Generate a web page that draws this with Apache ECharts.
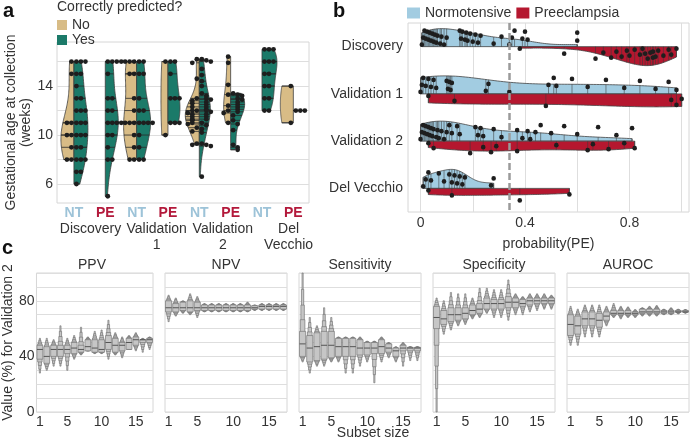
<!DOCTYPE html>
<html><head><meta charset="utf-8">
<script src="https://cdn.jsdelivr.net/npm/echarts@6/dist/echarts.min.js"></script>
<style>html,body{margin:0;padding:0;background:#fff}#c{width:691px;height:439px}</style>
</head><body><div id="c"></div>
<script>
// ================= DATA =================
// Panel a: gestational age at collection (weeks), split by "correctly predicted?"
const aPositions = [1, 2, 3, 4, 5, 6, 7, 8];
const aCategoryLabels = ['NT', 'PE', 'NT', 'PE', 'NT', 'PE', 'NT', 'PE'];
const aDatasetLabels = ['Discovery', 'Validation\n1', 'Validation\n2', 'Del\nVecchio'];
const aNo = [
  [16, 15, 11, 11, 10, 10, 9, 8, 8],
  [],
  [16, 16, 16, 15, 15, 13, 12, 11, 11, 11, 10, 9, 8, 8],
  [16, 10],
  [16.2, 15.9, 14.6, 13.0, 12.8, 12.6, 12.3, 12.0, 12.0, 11.8, 11.7, 11.5, 11.3, 11.2, 11.0, 10.9, 10.6, 10.3, 9.3, 9.2],
  [16.4, 15.9, 14.1, 13.3, 12.4, 12.0, 11.8, 11.0],
  [],
  [14, 11]
];
const aYes = [
  [16, 16, 16, 15, 15, 14, 13, 13, 12, 12, 12, 11, 11, 11, 10, 10, 10, 9, 9, 8, 8, 8, 7, 7, 6],
  [16, 16, 16, 16, 15, 13, 13, 12, 12, 11, 11, 11, 11, 10, 10, 9, 8, 8, 5],
  [16, 16, 15, 15, 13, 12, 12, 11, 11, 11, 11, 10, 9, 8, 8],
  [16, 16, 15, 13, 13, 13, 11, 11, 11],
  [16.2, 16.1, 16.0, 15.4, 14.9, 14.4, 14.0, 13.4, 13.2, 13.0, 12.9, 12.7, 12.5, 12.3, 12.1, 12.0, 11.9, 11.7, 11.5, 11.3, 11.0, 10.8, 10.5, 10.2, 9.3, 9.2, 9.1, 6.6],
  [13.4, 13.3, 13.2, 13.0, 12.9, 12.7, 12.5, 12.3, 12.1, 11.9, 11.6, 11.2, 10.9, 10.4, 9.2, 9.0, 8.8],
  [17, 17, 17, 16, 16, 16, 15, 15, 14, 14, 13, 13, 12, 12],
  [12, 12, 12]
];
const aYTicks = [6, 8, 10, 12, 14, 16];
const aYLabels = [6, 10, 14];

// Panel b: probability(PE)
const bDatasets = ['Discovery', 'Validation 1', 'Validation 2', 'Del Vecchio'];
const bNormotensive = [
  [0.005, 0.01, 0.015, 0.02, 0.025, 0.03, 0.035, 0.04, 0.045, 0.05, 0.055, 0.06, 0.065, 0.075, 0.08, 0.09, 0.10, 0.15, 0.155, 0.16, 0.17, 0.175, 0.18, 0.19, 0.20, 0.21, 0.22, 0.23, 0.28, 0.31, 0.34, 0.35, 0.36, 0.39, 0.40, 0.41, 0.60, 0.60],
  [0.0, 0.005, 0.01, 0.02, 0.03, 0.04, 0.05, 0.06, 0.10, 0.105, 0.11, 0.115, 0.12, 0.25, 0.26, 0.34, 0.49, 0.51, 0.52, 0.58, 0.64, 0.71, 0.78, 0.84, 0.90, 0.95, 0.98],
  [0.0, 0.005, 0.01, 0.015, 0.02, 0.025, 0.03, 0.035, 0.04, 0.045, 0.05, 0.06, 0.065, 0.07, 0.08, 0.09, 0.10, 0.11, 0.12, 0.14, 0.15, 0.21, 0.22, 0.23, 0.24, 0.28, 0.31, 0.37, 0.39, 0.41, 0.42, 0.44, 0.46, 0.50, 0.55, 0.60, 0.68, 0.75, 0.81],
  [0.01, 0.02, 0.03, 0.04, 0.07, 0.09, 0.11, 0.12, 0.13, 0.14, 0.15, 0.16, 0.17, 0.27, 0.28]
];
const bPreeclampsia = [
  [0.38, 0.55, 0.67, 0.70, 0.73, 0.75, 0.77, 0.79, 0.80, 0.82, 0.84, 0.85, 0.86, 0.87, 0.88, 0.89, 0.89, 0.90, 0.91, 0.93, 0.95, 0.96, 0.98],
  [0.03, 0.13, 0.48, 0.96, 0.98, 1.0],
  [0.03, 0.05, 0.19, 0.24, 0.27, 0.29, 0.37, 0.52, 0.64, 0.66, 0.72, 0.78, 0.82],
  [0.03, 0.12, 0.38, 0.57]
];
const bThreshold = 0.343;
const bXTicks = [0, 0.2, 0.4, 0.6, 0.8, 1.0];
const bXLabels = [0, 0.4, 0.8];

// Panel c: value (%) for Validation 2 by subset size (letter-value summaries)
const cMetrics = ['PPV', 'NPV', 'Sensitivity', 'Specificity', 'AUROC'];
const cSubsetSizes = [1, 2, 3, 4, 5, 6, 7, 8, 9, 10, 11, 12, 13, 14, 15, 16, 17];
const cXLabels = [1, 5, 10, 15];
const cYLabels = [0, 40, 80];
const ppvMin = [28, 30, 33, 33, 30, 38, 41, 44, 42, 42, 38, 41, 39, 45, 44, 43, 45];
const ppvQ25 = [38, 35, 40, 40, 42, 42, 43, 44, 43, 43, 45, 43, 44, 45, 48, 50, 50];
const ppvMed = [45, 40, 45, 45, 45, 46, 45, 47, 46, 45, 50, 48, 48, 50, 52, 52, 52];
const ppvQ75 = [48, 47, 48, 48, 48, 50, 48, 52, 52, 52, 55, 53, 50, 53, 54, 52, 53];
const ppvMax = [53, 53, 52, 62, 53, 55, 61, 54, 58, 59, 66, 57, 54, 55, 57, 53, 54];
const npvMin = [65, 69, 71, 70, 68, 72, 72, 72, 72, 72, 72, 72, 73, 73, 73, 73, 73];
const npvQ25 = [72, 72, 73, 72, 73, 73, 73, 73, 73, 73, 73, 73, 74, 74, 74, 74, 74];
const npvMed = [75, 75, 75, 75, 75, 75, 75, 75, 75, 75, 75, 75, 75, 76, 76, 76, 76];
const npvQ75 = [80, 78, 79, 80, 79, 77, 77, 77, 77, 77, 77, 77, 76.5, 77, 77, 77, 77];
const npvMax = [84, 82, 80, 85, 83, 78, 78, 78, 78, 78, 78, 79, 77, 78, 78, 78, 78];
const sensMin = [36, 28, 33, 33, 36, 36, 28, 28, 33, 36, 21, 36, 39, 36, 33, 37, 37];
const sensQ25 = [40, 36, 37, 38, 39, 40, 40, 40, 41, 41, 42, 42, 43, 40, 44, 44, 44];
const sensMed = [49, 46, 47, 48, 48, 47, 47, 47, 46, 46, 46, 47, 46, 44, 46, 46, 46];
const sensQ75 = [58, 55, 57, 58, 58, 53, 53, 53, 52, 50, 50, 52, 49, 46, 48, 46.5, 46.5];
const sensMax = [100, 68, 62, 75, 68, 54, 54, 54, 54, 51, 51, 54, 50, 47, 50, 47, 47];
const specMin = [0, 56, 59, 62, 63, 67, 68, 71, 68, 68, 66, 70, 70, 72, 73, 74, 74];
const specQ25 = [60, 63, 65, 66, 67, 70, 71, 74, 74, 74, 75, 75, 76, 77, 78, 78, 78];
const specMed = [68, 67, 70, 70, 71, 73, 74, 78, 78, 78, 79, 79, 78, 80, 80, 80, 80];
const specQ75 = [76, 73, 75, 75, 75, 77, 78, 82, 81, 81, 83, 82, 81, 82, 82, 82, 82];
const specMax = [82, 80, 86, 85, 85, 82, 89, 89, 88, 88, 95, 85, 83, 85, 85, 85, 84];
const aucMin = [48, 48, 54, 54, 54, 62, 68, 67, 68, 68, 69, 69, 69, 70, 70, 70.5, 71];
const aucQ25 = [55, 56, 62, 62, 61, 66, 70, 70, 70, 70, 71, 71, 71, 71, 71, 72, 72];
const aucMed = [63, 62, 67, 67, 66, 69, 71, 71, 71, 71, 72, 72, 72, 72, 72, 72, 72];
const aucQ75 = [70, 69, 72, 72, 71, 72, 73, 73, 73, 72, 74, 74, 74, 73, 73, 73, 73];
const aucMax = [76, 74, 77, 77, 77, 76, 78, 76, 75.6, 73.7, 75, 76, 76.6, 74, 75, 74, 73.7];

// ================= STYLE / LAYOUT =================
const FONT = '"Liberation Sans", Arial, sans-serif';
const TEXT = '#333';
const TAN = '#d8bc86', TEAL = '#1b7a69', BLUE = '#a2cce1', RED = '#b5172f';
const aNoWidthPx = [13, 0, 13, 7, 14, 7, 0, 13];
const aYesWidthPx = [14, 13, 14, 12, 11, 14, 15, 13];
const aDatasetLabelPos = [1.53, 3.64, 5.75, 7.85];
const bBlueHeightPx = [18, 18, 20, 19];
const bRedHeightPx = [19, 13, 10, 7];
const cGridLefts = [31, 165, 299, 433, 567];
const cStats = [
  [ppvMin, ppvQ25, ppvMed, ppvQ75, ppvMax],
  [npvMin, npvQ25, npvMed, npvQ75, npvMax],
  [sensMin, sensQ25, sensMed, sensQ75, sensMax],
  [specMin, specQ25, specMed, specQ75, specMax],
  [aucMin, aucQ25, aucMed, aucQ75, aucMax]
];

// ================= HELPERS =================
function kde(vals) {
  const n = vals.length;
  if (n < 2) return null;
  const mean = vals.reduce((a, b) => a + b, 0) / n;
  const sd = Math.sqrt(vals.reduce((a, b) => a + (b - mean) * (b - mean), 0) / (n - 1));
  if (sd === 0) return null;
  const bw = sd * Math.pow(n, -0.2);
  const lo = Math.min(...vals), hi = Math.max(...vals);
  const f = x => vals.reduce((s, v) => s + Math.exp(-0.5 * ((x - v) / bw) * ((x - v) / bw)), 0);
  const N = 80, pts = [];
  for (let i = 0; i <= N; i++) { const x = lo + (hi - lo) * i / N; pts.push([x, f(x)]); }
  const mx = Math.max(...pts.map(p => p[1]));
  return { lo, hi, pts: pts.map(p => [p[0], p[1] / mx]), at: x => f(x) / mx };
}

// Panel a halves
const aNoHalves = aPositions.map((p, i) => ({ pos: p, side: -1, vals: aNo[i], width: aNoWidthPx[i], color: TAN, k: kde(aNo[i]) }));
const aYesHalves = aPositions.map((p, i) => ({ pos: p, side: 1, vals: aYes[i], width: aYesWidthPx[i], color: TEAL, k: kde(aYes[i]) }));

function renderHalfA(list) {
  return function (params, api) {
    const h = list[params.dataIndex];
    const ch = [];
    if (!h.vals.length) return { type: 'group', children: ch };
    const cx = api.coord([h.pos, h.vals[0]])[0];
    if (h.k) {
      const pts = h.k.pts.map(([v, d]) => [cx + h.side * d * h.width, api.coord([h.pos, v])[1]]);
      pts.push([cx, api.coord([h.pos, h.k.hi])[1]], [cx, api.coord([h.pos, h.k.lo])[1]]);
      ch.push({ type: 'polygon', shape: { points: pts }, style: { fill: h.color, stroke: '#3d3d3d', lineWidth: 0.8 } });
    }
    h.vals.forEach(v => {
      const y = api.coord([h.pos, v])[1];
      const d = h.k ? h.k.at(v) : 1;
      ch.push({ type: 'line', shape: { x1: cx, y1: y, x2: cx + h.side * d * h.width, y2: y }, style: { stroke: '#2a2a2a', lineWidth: 0.8 } });
    });
    return { type: 'group', children: ch };
  };
}

// Dodged dot positions (pixel offsets) for panel a
const aDots = [];
[aNoHalves, aYesHalves].forEach(list => list.forEach(h => {
  h.vals.forEach((v, i) => {
    let k = 0;
    for (let j = 0; j < i; j++) if (Math.abs(h.vals[j] - v) < 0.3) k++;
    aDots.push([h.pos, v, h.side * (2.5 + (k % 4) * 4.5)]);
  });
}));
function renderDotA(params, api) {
  const c = api.coord([api.value(0), api.value(1)]);
  return { type: 'circle', shape: { cx: c[0] + api.value(2), cy: c[1], r: 2.4 }, style: { fill: '#1e1e1e' } };
}

// Panel b halves
const bBlueHalves = bDatasets.map((d, i) => ({ row: i, side: -1, vals: bNormotensive[i], h: bBlueHeightPx[i], color: BLUE, k: kde(bNormotensive[i]) }));
const bRedHalves = bDatasets.map((d, i) => ({ row: i, side: 1, vals: bPreeclampsia[i], h: bRedHeightPx[i], color: RED, k: kde(bPreeclampsia[i]) }));

function renderHalfB(list) {
  return function (params, api) {
    const h = list[params.dataIndex];
    const ch = [];
    const cy = api.coord([h.vals[0], h.row])[1];
    if (h.k) {
      const pts = h.k.pts.map(([v, d]) => [api.coord([v, h.row])[0], cy + h.side * d * h.h]);
      pts.push([api.coord([h.k.hi, h.row])[0], cy], [api.coord([h.k.lo, h.row])[0], cy]);
      ch.push({ type: 'polygon', shape: { points: pts }, style: { fill: h.color, stroke: '#444', lineWidth: 0.8 } });
    }
    h.vals.forEach(v => {
      const x = api.coord([v, h.row])[0];
      const d = h.k ? h.k.at(v) : 1;
      ch.push({ type: 'line', shape: { x1: x, y1: cy, x2: x, y2: cy + h.side * d * h.h }, style: { stroke: '#3a3a3a', lineWidth: 0.7, opacity: 0.8 } });
    });
    return { type: 'group', children: ch };
  };
}

const bDots = [];
bBlueHalves.forEach(h => h.vals.forEach((v, i) => bDots.push([v, h.row, -(2 + ((i * 7) % 15))])));
bRedHalves.forEach(h => h.vals.forEach((v, i) => bDots.push([v, h.row, 2 + ((i * 5) % 11)])));
function renderDotB(params, api) {
  const c = api.coord([api.value(0), api.value(1)]);
  return { type: 'circle', shape: { cx: c[0], cy: c[1] + api.value(2), r: 2.3 }, style: { fill: '#1e1e1e' } };
}

// Panel c boxen
function renderBoxen(params, api) {
  const s = api.value(0), mn = api.value(1), q1 = api.value(2), md = api.value(3), q3 = api.value(4), mx = api.value(5);
  const unit = api.size([1, 0])[0];
  const W = unit * 0.86;
  const cx = api.coord([s, md])[0];
  const levels = [[1, 0.2], [0.72, 0.38], [0.45, 0.56], [0.2, 0.76], [0, 1]];
  const ch = [];
  levels.forEach(([f, w]) => {
    const lo = q1 - f * (q1 - mn), hi = q3 + f * (mx - q3);
    const yTop = api.coord([s, hi])[1], yBot = api.coord([s, lo])[1];
    const ww = W * w;
    ch.push({ type: 'rect', shape: { x: cx - ww / 2, y: yTop, width: ww, height: Math.max(yBot - yTop, 0.6) }, style: { fill: '#c6c6c6', stroke: '#6e6e6e', lineWidth: 0.6 } });
  });
  const ym = api.coord([s, md])[1];
  ch.push({ type: 'line', shape: { x1: cx - W / 2, y1: ym, x2: cx + W / 2, y2: ym }, style: { stroke: '#555', lineWidth: 1 } });
  return { type: 'group', children: ch };
}

// ================= OPTION =================
const gridStyle = { show: true, borderColor: '#d6d6d6', borderWidth: 1, backgroundColor: 'transparent' };
const splitStyle = { show: true, lineStyle: { color: '#dedede', width: 1 } };
const labelFont = { fontFamily: FONT, fontSize: 14, color: TEXT };

const grids = [
  Object.assign({ left: 57, top: 42, width: 252, height: 161 }, gridStyle),
  Object.assign({ left: 408, top: 23, width: 281, height: 189 }, gridStyle)
];
cGridLefts.forEach(l => grids.push(Object.assign({ left: l, top: 273, width: 122, height: 139 }, gridStyle)));

const xAxes = [
  { gridIndex: 0, type: 'value', min: 0.46, max: 8.5,
    axisLine: { show: false }, axisTick: { show: false }, splitLine: { show: false },
    axisLabel: { customValues: aPositions, margin: 3, fontFamily: FONT,
      formatter: v => { const i = aPositions.indexOf(v); return i < 0 ? '' : '{' + aCategoryLabels[i].toLowerCase() + '|' + aCategoryLabels[i] + '}'; },
      rich: { nt: { color: '#9dc3d8', fontWeight: 'bold', fontSize: 14, fontFamily: FONT }, pe: { color: '#b3193b', fontWeight: 'bold', fontSize: 14, fontFamily: FONT } } } },
  { gridIndex: 0, type: 'value', min: 0.46, max: 8.5, position: 'bottom', offset: 0,
    axisLine: { show: false }, axisTick: { show: false }, splitLine: { show: false },
    axisLabel: Object.assign({ customValues: aDatasetLabelPos, margin: 18, lineHeight: 16,
      formatter: v => { const i = aDatasetLabelPos.indexOf(v); return i < 0 ? '' : aDatasetLabels[i]; } }, labelFont) },
  { gridIndex: 1, type: 'value', min: -0.048, max: 1.028,
    axisLine: { show: false }, axisTick: { show: false, customValues: bXTicks }, splitLine: splitStyle,
    axisLabel: Object.assign({ customValues: bXLabels, margin: 4, formatter: v => String(v) }, labelFont),
    name: 'probability(PE)', nameLocation: 'middle', nameGap: 25, nameTextStyle: labelFont }
];
cMetrics.forEach((m, i) => xAxes.push({
  gridIndex: 2 + i, type: 'value', min: 0.5, max: 17.5,
  axisLine: { show: false }, axisTick: { show: false }, splitLine: { show: false },
  axisLabel: Object.assign({ customValues: cXLabels, margin: 3 }, labelFont)
}));

const yAxes = [
  { gridIndex: 0, type: 'value', min: 4.45, max: 17.6,
    axisLine: { show: false }, axisTick: { show: false, customValues: aYTicks }, splitLine: splitStyle,
    axisLabel: Object.assign({ customValues: aYLabels, margin: 4 }, labelFont),
    name: 'Gestational age at collection\n(weeks)', nameLocation: 'middle', nameGap: 17,
    nameTextStyle: Object.assign({ lineHeight: 15 }, labelFont) },
  { gridIndex: 1, type: 'category', data: bDatasets, inverse: true, boundaryGap: true,
    axisLine: { show: false }, axisTick: { show: false }, splitLine: { show: false },
    axisLabel: Object.assign({ margin: 5 }, labelFont) }
];
cMetrics.forEach((m, i) => yAxes.push({
  gridIndex: 2 + i, type: 'value', min: 0, max: 100, interval: 10,
  axisLine: { show: false }, axisTick: { show: false }, splitLine: splitStyle,
  axisLabel: Object.assign({ show: i === 0, margin: 2, padding: [0, 0, 6, 0], formatter: v => (cYLabels.indexOf(v) >= 0 ? String(v) : '') }, labelFont),
  name: i === 0 ? 'Value (%) for Validation 2' : '', nameLocation: 'middle', nameGap: 16, nameTextStyle: labelFont
}));

const series = [
  { name: 'No', type: 'custom', xAxisIndex: 0, yAxisIndex: 0, itemStyle: { color: TAN },
    data: aNoHalves.map((h, i) => [h.pos, 10, i]), renderItem: renderHalfA(aNoHalves), z: 2 },
  { name: 'Yes', type: 'custom', xAxisIndex: 0, yAxisIndex: 0, itemStyle: { color: TEAL },
    data: aYesHalves.map((h, i) => [h.pos, 10, i]), renderItem: renderHalfA(aYesHalves), z: 2 },
  { name: 'aDots', type: 'custom', xAxisIndex: 0, yAxisIndex: 0, data: aDots, renderItem: renderDotA, z: 3 },
  { name: 'Normotensive', type: 'custom', xAxisIndex: 2, yAxisIndex: 1, itemStyle: { color: BLUE },
    data: bBlueHalves.map((h, i) => [0.5, i]), renderItem: renderHalfB(bBlueHalves), z: 2 },
  { name: 'Preeclampsia', type: 'custom', xAxisIndex: 2, yAxisIndex: 1, itemStyle: { color: RED },
    data: bRedHalves.map((h, i) => [0.5, i]), renderItem: renderHalfB(bRedHalves), z: 2 },
  { name: 'bDots', type: 'custom', xAxisIndex: 2, yAxisIndex: 1, data: bDots, renderItem: renderDotB, z: 3,
    markLine: { silent: true, symbol: 'none', label: { show: false }, z: 5,
      lineStyle: { color: '#9a9a9a', type: [7, 3], width: 2.5 }, data: [{ xAxis: bThreshold }] } }
];
cMetrics.forEach((m, i) => {
  const st = cStats[i];
  series.push({ name: m, type: 'custom', xAxisIndex: 3 + i, yAxisIndex: 2 + i,
    data: cSubsetSizes.map((s, j) => [s, st[0][j], st[1][j], st[2][j], st[3][j], st[4][j]]),
    encode: { x: 0, y: 3 }, renderItem: renderBoxen, z: 2 });
});

const txt = (x, y, text, extra) => ({ type: 'text', x: x, y: y, silent: true,
  style: Object.assign({ text: text, font: '14px ' + FONT, fill: TEXT, align: 'left', verticalAlign: 'middle' }, extra || {}) });

const graphic = [
  txt(3, 11, 'a', { font: 'bold 20px ' + FONT, fill: '#111' }),
  txt(333, 11, 'b', { font: 'bold 20px ' + FONT, fill: '#111' }),
  txt(2, 248, 'c', { font: 'bold 20px ' + FONT, fill: '#111' }),
  txt(57, 7, 'Correctly predicted?'),
  txt(373, 433, 'Subset size', { align: 'center' })
];
cMetrics.forEach((m, i) => graphic.push(txt(cGridLefts[i] + 61, 265, m, { align: 'center' })));

const option = {
  animation: false,
  backgroundColor: '#fff',
  textStyle: { fontFamily: FONT },
  grid: grids,
  xAxis: xAxes,
  yAxis: yAxes,
  legend: [
    { data: ['No', 'Yes'], orient: 'vertical', left: 52, top: 13, itemWidth: 10, itemHeight: 10, itemGap: 1,
      icon: 'rect', selectedMode: false, textStyle: { fontSize: 14, color: TEXT, fontFamily: FONT, lineHeight: 12 } },
    { data: ['Normotensive', 'Preeclampsia'], orient: 'horizontal', left: 402, top: 1, itemWidth: 13, itemHeight: 11, itemGap: 5,
      icon: 'rect', selectedMode: false, textStyle: { fontSize: 14, color: TEXT, fontFamily: FONT } }
  ],
  graphic: graphic,
  series: series
};

const chart = echarts.init(document.getElementById('c'), null, { renderer: 'canvas' });
chart.setOption(option);
</script>
</body></html>
